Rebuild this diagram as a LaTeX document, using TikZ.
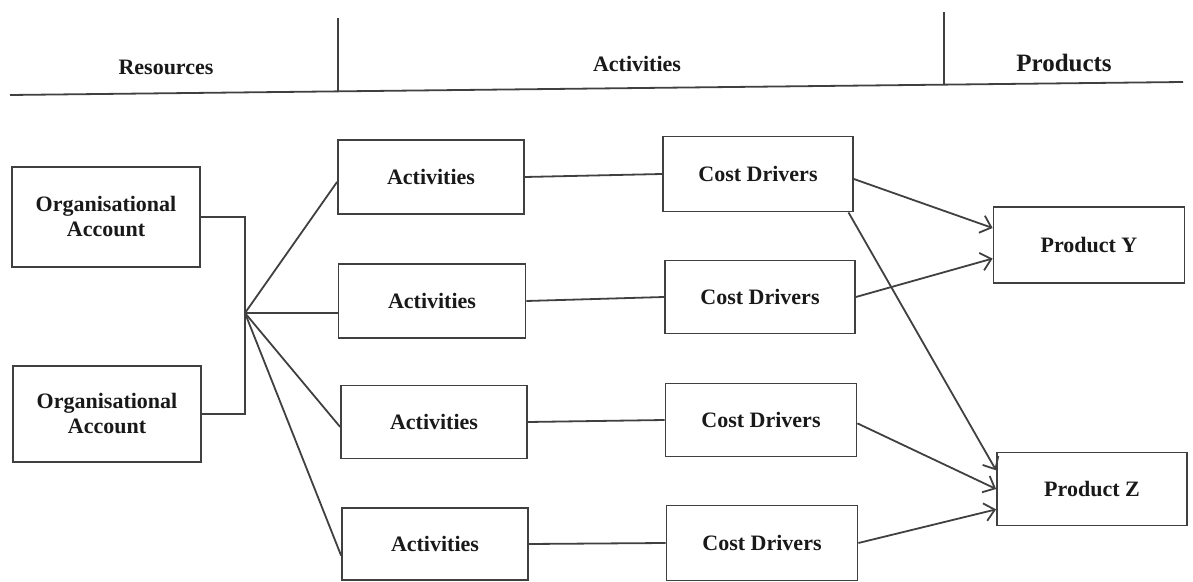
\documentclass[tikz,border=0pt]{standalone}
\usepackage{fontspec}
\setmainfont{Liberation Serif}
\usetikzlibrary{arrows.meta}

\begin{document}
\begin{tikzpicture}[x=0.5pt, y=-0.5pt, line width=0.9pt, color=black!75,
  >={Straight Barb[length=5pt, width=9pt]},
  every node/.style={font=\fontsize{11}{12.5}\selectfont\bfseries, text=black!90},
  box/.style={draw, rectangle, inner sep=0pt, align=center, minimum width=94pt, minimum height=37pt}]
  \useasboundingbox (0,0) rectangle (1193,582);

  % Header row
  \draw (10,95) -- (1183,82);
  \draw (338,18) -- (338,91);
  \draw (944,12) -- (944,85);
  \node (hres) at (166,67) {Resources};
  \node (hact) at (637,64) {Activities};
  \node[font=\fontsize{12.5}{14}\selectfont\bfseries] (hprod) at (1064,63) {Products};

  % Resources
  \node[box, minimum height=50pt] (org1) at (106,217) {Organisational\\Account};
  \node[box, minimum height=48pt] (org2) at (107,414) {Organisational\\Account};
  \coordinate (hub) at (245,313);

  % Activities
  \node[box, minimum width=93pt] (act1) at (431,177) {Activities};
  \node[box, minimum width=93.5pt] (act2) at (432,301) {Activities};
  \node[box, minimum width=93pt, minimum height=36.5pt] (act3) at (434,422) {Activities};
  \node[box, minimum width=93pt, minimum height=36pt] (act4) at (435,544) {Activities};

  % Cost drivers
  \node[box, minimum width=95pt, minimum height=37.5pt] (cd1) at (758,174) {Cost Drivers};
  \node[box, minimum width=95pt, minimum height=36.5pt] (cd2) at (760,297) {Cost Drivers};
  \node[box, minimum width=95.5pt, minimum height=36.5pt] (cd3) at (761,420) {Cost Drivers};
  \node[box, minimum width=95.5pt, minimum height=37.5pt] (cd4) at (762,543) {Cost Drivers};

  % Products
  \node[box, minimum width=95.5pt, minimum height=38pt] (prody) at (1089,245) {Product Y};
  \node[box, minimum width=95pt, minimum height=36.5pt] (prodz) at (1092,489) {Product Z};

  % Accounts to activities
  \draw (org1.east) -| (hub) |- (org2.east);
  \draw (hub) -- (act1.183);
  \draw (hub) -- (hub -| act2.west);
  \draw (hub) -- (act3.183);
  \draw (hub) -- (act4.187);

  % Activities to cost drivers
  \foreach \i in {1,...,4}
    \draw (act\i.east) -- (cd\i.west);

  % Cost drivers to products
  \draw[->] (cd1.357) -- (prody.170);
  \draw[->] (cd1.337) -- (prodz.169);
  \draw[->] (cd2.east) -- (prody.188);
  \draw[->] (cd3.358) -- (prodz.west);
  \draw[->] (cd4.east) -- (prodz.192);
\end{tikzpicture}
\end{document}
